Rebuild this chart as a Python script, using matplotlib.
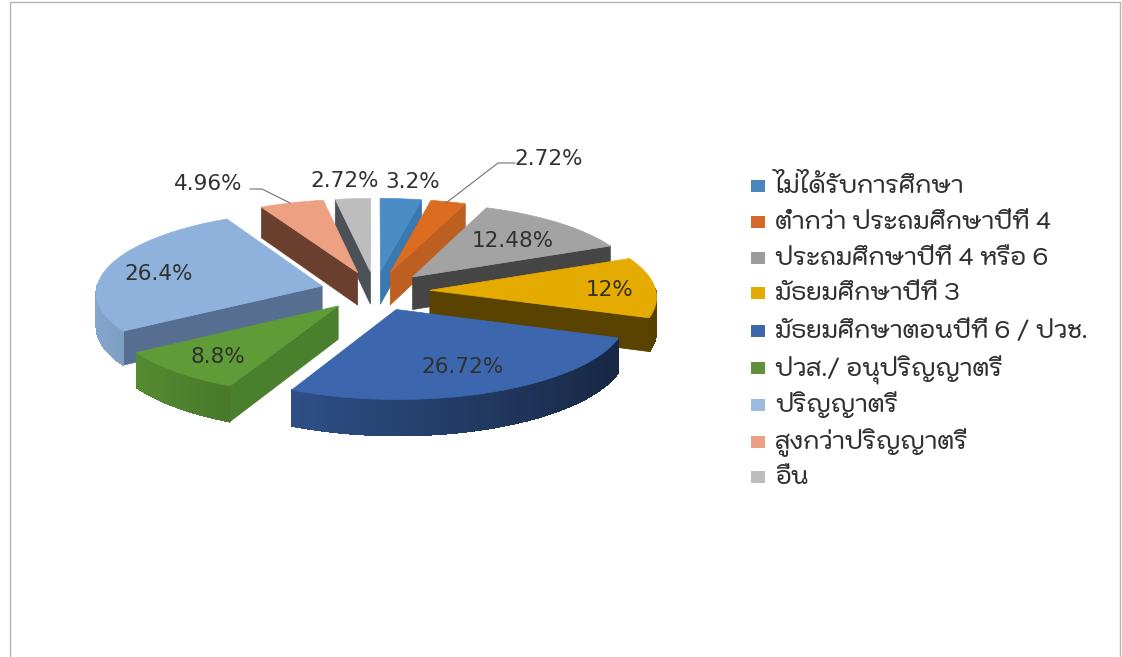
import numpy as np
import matplotlib
matplotlib.use("Agg")
import matplotlib.pyplot as plt
from matplotlib.patches import Polygon, Rectangle

plt.rcParams['font.family'] = ['Kodchasan', 'Noto Sans Thai Looped', 'DejaVu Sans']

# Data
categories = ['ไม่ได้รับการศึกษา', 'ต่ำกว่า ประถมศึกษาปีที่ 4', 'ประถมศึกษาปีที่ 4 หรือ 6',
              'มัธยมศึกษาปีที่ 3', 'มัธยมศึกษาตอนปีที่ 6 / ปวช.', 'ปวส./ อนุปริญญาตรี',
              'ปริญญาตรี', 'สูงกว่าปริญญาตรี', 'อื่น']
values = [3.2, 2.72, 12.48, 12, 26.72, 8.8, 26.4, 4.96, 2.72]

# Colours of the top faces and of the cut faces
top_colors = ['#4A8CC6', '#DB6C20', '#A3A3A3', '#E5AB00', '#3C66AE', '#5F9C38', '#8FB2DC', '#EEA083', '#BDBDBD']
cut_colors = ['#3A78B0', '#BC5F20', '#454545', '#5A4300', '#1E3560', '#4A7F2E', '#566F90', '#6B3F2E', '#4C5157']
legend_colors = ['#4A86BB', '#D2682C', '#9C9C9C', '#E5AB00', '#3C66AE', '#5F9040', '#9ABCE0', '#EBA084', '#BDBDBD']

# Projection of the tilted pie, in pixels
cx, cy = 375, 291
rad_x, rad_y = 226, 81
persp = 0.07
explode = 0.243
depth = 33


def project(X, Y, z=0.0):
    s = 1 / (1 + persp * Y)
    return np.column_stack([cx + rad_x * X * s, cy - rad_y * Y * s + depth * s * z])


def shade(color, f):
    rgb = np.array(matplotlib.colors.to_rgb(color))
    return tuple(rgb * f)


fig = plt.figure(figsize=(11.22, 6.57), dpi=100)
ax = fig.add_axes([0, 0, 1, 1])
ax.set_xlim(0, 1122)
ax.set_ylim(657, 0)
ax.axis('off')

# Page frame
ax.plot([10, 10, 1120, 1120], [657, 2, 2, 657], color='#b5b5b5', lw=1)

fracs = np.array(values) / 100
ends = np.cumsum(fracs) * 2 * np.pi
starts = ends - fracs * 2 * np.pi
mids = (starts + ends) / 2

# Paint from the back of the pie to the front
for i in sorted(range(len(values)), key=lambda j: -np.cos(mids[j])):
    off_x = explode * np.sin(mids[i])
    off_y = explode * np.cos(mids[i])
    t = np.linspace(starts[i], ends[i], max(int(fracs[i] * 200), 4))
    X = off_x + np.sin(t)
    Y = off_y + np.cos(t)
    tip_top = project(np.array([off_x]), np.array([off_y]))
    tip_low = project(np.array([off_x]), np.array([off_y]), 1)
    arc_top = project(X, Y)
    arc_low = project(X, Y, 1)

    # Cut faces, only those turned to the viewer
    if np.sin(starts[i]) < 0:
        ax.add_patch(Polygon([tip_top[0], arc_top[0], arc_low[0], tip_low[0]],
                             fc=cut_colors[i], ec=cut_colors[i], lw=0.5))
    if np.sin(ends[i]) > 0:
        ax.add_patch(Polygon([tip_top[0], arc_top[-1], arc_low[-1], tip_low[0]],
                             fc=cut_colors[i], ec=cut_colors[i], lw=0.5))

    # Outer wall, darker towards the right
    for k in range(len(t) - 1):
        mid_t = (t[k] + t[k + 1]) / 2
        if np.cos(mid_t) > 0.02:
            continue
        c = shade(top_colors[i], 0.65 - 0.28 * np.sin(mid_t))
        ax.add_patch(Polygon([arc_top[k], arc_top[k + 1], arc_low[k + 1], arc_low[k]],
                             fc=c, ec=c, lw=0.5, antialiased=False))

    ax.add_patch(Polygon(np.vstack([tip_top, arc_top]), fc=top_colors[i], ec=top_colors[i], lw=0.5))

# Data labels
label_x = [413, 549, 513, 610, 463, 218, 159, 208, 345]
label_y = [182, 159, 241, 290, 367, 357, 274, 184, 181]
for v, lx, ly in zip(values, label_x, label_y):
    ax.text(lx, ly, f'{v:g}%', ha='center', va='center', fontsize=15.5, color='#303030',
            family='DejaVu Sans')

# Leader lines
ax.plot([250, 262, 290], [189, 189, 203], color='#707070', lw=0.8)
ax.plot([515, 498, 446], [163, 163, 203], color='#707070', lw=0.8)

# Legend, on a common baseline so the marks above the letters do not shift rows
legend_y = [186, 222, 258, 293, 331, 368, 405, 442, 477]
for name, c, ly in zip(categories, legend_colors, legend_y):
    ax.add_patch(Rectangle((751, ly - 6), 14, 12, fc=c, ec='none'))
    ax.text(775, ly + 7, name, ha='left', va='baseline', fontsize=17, color='#303030', fontweight='medium')

fig.savefig('out.png', dpi=100)
